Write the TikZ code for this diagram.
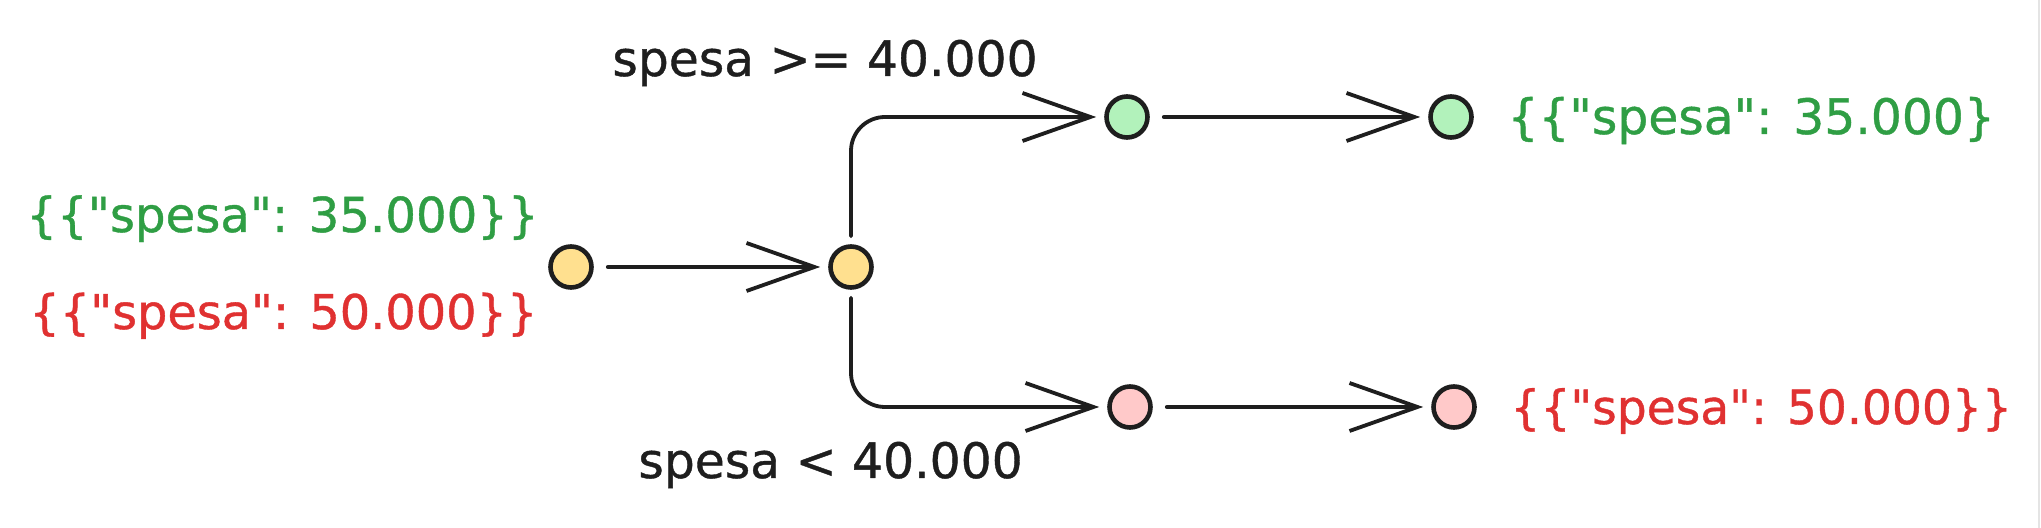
\documentclass[tikz,border=0pt]{standalone}
\usepackage{fontspec}
\newfontfamily\hand{DejaVu Sans}[Ligatures=TeXOff,FakeBold=0.8]
\usetikzlibrary{arrows.meta}
\definecolor{ink}{HTML}{1E1E1E}
\definecolor{jgreen}{HTML}{2F9E44}
\definecolor{jred}{HTML}{E03131}
\definecolor{fyellow}{HTML}{FFE08F}
\definecolor{fgreen}{HTML}{B2F2BB}
\definecolor{fpink}{HTML}{FFC9C9}
\definecolor{edge}{HTML}{E4E4E4}
\begin{document}
\begin{tikzpicture}[x=0.5pt,y=-0.5pt,
  dot/.style={circle,draw=ink,line width=2.3pt,minimum size=20.5pt,inner sep=0pt},
  conn/.style={draw=ink,line width=1.9pt,line cap=round,line join=round,
    -{Straight Barb[length=34pt,width=24pt,line width=1.9pt]},
    shorten <=7pt, shorten >=4pt},
  lbl/.style={font=\hand\fontsize{24.4}{29}\selectfont,inner sep=0pt,anchor=base west},
  lblsm/.style={lbl,font=\hand\fontsize{23.6}{29}\selectfont},
]
\useasboundingbox (0,0) rectangle (2041,528);
\fill[white] (0,0) rectangle (2041,528);
\draw[edge,line width=1pt] (2039,0) -- (2039,528);

\node[dot,fill=fyellow] (a) at (571,267) {};
\node[dot,fill=fyellow] (b) at (851,267) {};
\node[dot,fill=fgreen] (c) at (1127,117) {};
\node[dot,fill=fpink] (d) at (1130,407) {};
\node[dot,fill=fgreen] (e) at (1451,117) {};
\node[dot,fill=fpink] (f) at (1454,407) {};

\node[lbl,text=jgreen,font=\hand\fontsize{24.1}{29}\selectfont] (inG) at (26,232) {\{\{"spesa": 35.000\}\}};
\node[lbl,text=jred,font=\hand\fontsize{23.9}{29}\selectfont] (inR) at (29,329) {\{\{"spesa": 50.000\}\}};
\node[lbl,text=ink] (condHi) at (612,76) {spesa >= 40.000};
\node[lbl,text=ink] (condLo) at (638,478) {spesa < 40.000};
\node[lbl,text=jgreen] (outG) at (1507,134) {\{\{"spesa": 35.000\}};
\node[lblsm,text=jred] (outR) at (1510,424) {\{\{"spesa": 50.000\}\}};

\draw[conn] (a) -- (b);
\draw[conn,rounded corners=17pt,shorten <=4pt] (b.north) |- (c);
\draw[conn,rounded corners=17pt,shorten <=4pt] (b.south) |- (d);
\draw[conn] (c) -- (e);
\draw[conn] (d) -- (f);
\end{tikzpicture}
\end{document}
